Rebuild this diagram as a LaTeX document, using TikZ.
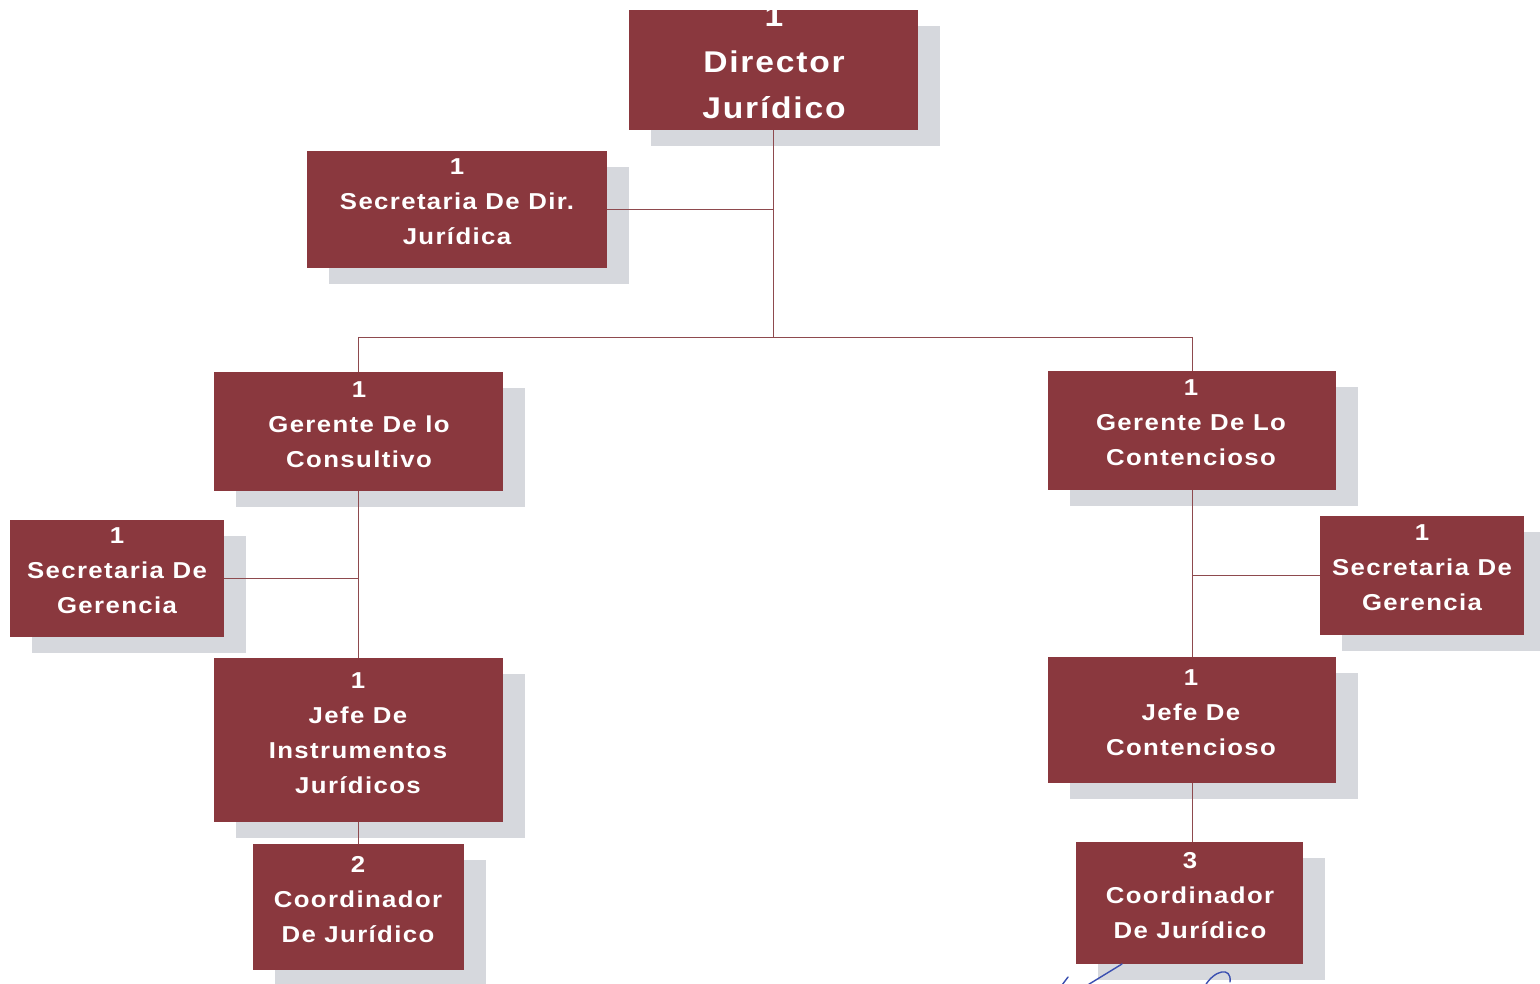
\documentclass[tikz,border=0pt]{standalone}
\usepackage{fontspec}
\newfontfamily\boxfont{Liberation Sans}[LetterSpace=6,FakeStretch=1.12]
\usetikzlibrary{shadows}
\definecolor{boxred}{HTML}{8A383E}
\definecolor{shadowgray}{HTML}{D6D8DD}
\definecolor{linered}{HTML}{8E4A4E}
\definecolor{inkblue}{HTML}{3A4FB0}
\tikzset{
  orgbox/.style={fill=boxred, draw=none, inner sep=0pt,
    drop shadow={shadow xshift=22pt, shadow yshift=-16pt, fill=shadowgray, opacity=1}},
  boxtext/.style={text=white, align=center, inner sep=0pt,
    font=\boxfont\bfseries\fontsize{23}{35}\selectfont},
  bigtext/.style={text=white, align=center, inner sep=0pt,
    font=\boxfont\bfseries\fontsize{30}{46}\selectfont},
  link/.style={draw=linered, line width=0.8pt},
  ink/.style={draw=inkblue, line width=1.4pt, line cap=round}
}
\begin{document}
\begin{tikzpicture}[x=1pt,y=-1pt]
\useasboundingbox (0,0) rectangle (1540,984);
% boxes
\node[orgbox, minimum width=289pt, minimum height=120pt] (dir) at (773.5,70) {};
\node[orgbox, minimum width=300pt, minimum height=117pt] (secdir) at (457,209.5) {};
\node[orgbox, minimum width=289pt, minimum height=119pt] (gcons) at (358.5,431.5) {};
\node[orgbox, minimum width=288pt, minimum height=119pt] (gcont) at (1192,430.5) {};
\node[orgbox, minimum width=214pt, minimum height=117pt] (secL) at (117,578.5) {};
\node[orgbox, minimum width=204pt, minimum height=119pt] (secR) at (1422,575.5) {};
\node[orgbox, minimum width=289pt, minimum height=164pt] (jefeI) at (358.5,740) {};
\node[orgbox, minimum width=288pt, minimum height=126pt] (jefeC) at (1192,720) {};
\node[orgbox, minimum width=211pt, minimum height=126pt] (coordL) at (358.5,907) {};
\node[orgbox, minimum width=227pt, minimum height=122pt] (coordR) at (1189.5,903) {};
% texts
\node[bigtext] (dirT) at (774,62) {1\\Director\\Jurídico};
\node[boxtext] (secdirT) at (457,202) {1\\Secretaria De Dir.\\Jurídica};
\node[boxtext] (gconsT) at (359,425) {1\\Gerente De lo\\Consultivo};
\node[boxtext] (gcontT) at (1191,423) {1\\Gerente De Lo\\Contencioso};
\node[boxtext] (secLT) at (117,571) {1\\Secretaria De\\Gerencia};
\node[boxtext] (secRT) at (1422,568) {1\\Secretaria De\\Gerencia};
\node[boxtext] (jefeIT) at (358,733.5) {1\\Jefe De\\Instrumentos\\Jurídicos};
\node[boxtext] (jefeCT) at (1191,713) {1\\Jefe De\\Contencioso};
\node[boxtext] (coordLT) at (358,900) {2\\Coordinador\\De Jurídico};
\node[boxtext] (coordRT) at (1190,896) {3\\Coordinador\\De Jurídico};
% connectors
\coordinate (hub) at (773.5,337);
\coordinate (hubL) at (358.5,337);
\coordinate (hubR) at (1192,337);
\draw[link] (dir.south) -- (hub);
\draw[link] (secdir.east) -- (secdir.east -| dir.south);
\draw[link] (hubL) -- (hubR);
\draw[link] (hubL) -- (gcons.north);
\draw[link] (hubR) -- (gcont.north);
\draw[link] (gcons.south) -- (jefeI.north);
\draw[link] (secL.east) -- (secL.east -| gcons.south);
\draw[link] (jefeI.south) -- (coordL.north);
\draw[link] (gcont.south) -- (jefeC.north);
\draw[link] (secR.west) -- (secR.west -| gcont.south);
\draw[link] (jefeC.south) -- (jefeC.south |- coordR.north);
% signature fragment
\draw[ink] (1062,985) -- (1068,977);
\draw[ink] (1086,986) -- (1122,964);
\draw[ink] (1205,986) .. controls (1214,970) and (1232,966) .. (1230,982);
\end{tikzpicture}
\end{document}
